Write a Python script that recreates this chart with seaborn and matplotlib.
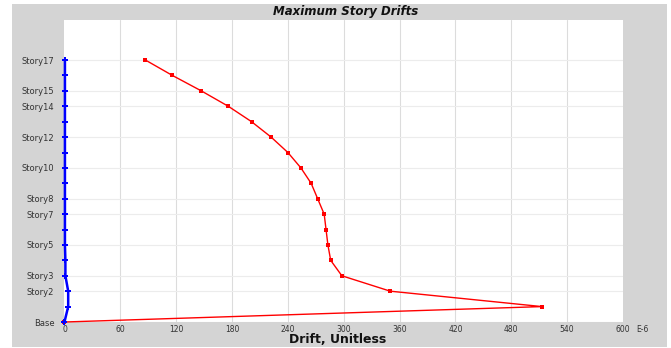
import numpy as np
import pandas as pd
import matplotlib
matplotlib.use("Agg")
import matplotlib.pyplot as plt
from matplotlib.patches import Rectangle
import seaborn as sns

# story levels, Base = 0 ... Story17 = 17
levels = list(range(0, 18))
story_names = ["Base"] + ["Story%d" % i for i in range(1, 18)]
labeled = ["Story17", "Story15", "Story14", "Story12", "Story10",
           "Story8", "Story7", "Story5", "Story3", "Story2", "Base"]

# drifts (E-6), Base -> Story17
drift_red = [0, 513, 350, 298, 286, 283, 281, 279, 272, 265,
             254, 240, 222, 201, 176, 147, 116, 87]
drift_blue = [0, 4, 4, 1, 1, 0.5, 0.5, 0.5, 0.5, 0.5,
              0.5, 0.5, 0.5, 0.5, 0.5, 0.5, 0.5, 0.5]
x_ticks = [0, 60, 120, 180, 240, 300, 360, 420, 480, 540, 600]

df = pd.DataFrame({"level": levels, "red": drift_red, "blue": drift_blue})

sns.set_style("white")
plt.rcParams["font.family"] = ["DejaVu Sans"]

fig = plt.figure(figsize=(6.71, 3.48), dpi=100)
fig.patch.set_facecolor("white")
# gray panel behind everything
bg = fig.add_axes([0, 0, 1, 1], zorder=-10)
bg.add_patch(Rectangle((12 / 671, 1 - 347 / 348), 655 / 671, 343 / 348,
                       facecolor="#d4d4d4", edgecolor="none"))
bg.set_xlim(0, 1)
bg.set_ylim(0, 1)
bg.axis("off")

ax = fig.add_axes([64 / 671, 1 - 322 / 348, 559 / 671, 302 / 348], zorder=1)
ax.set_facecolor("white")

# grid lines
for xv in x_ticks[1:-1]:
    ax.axvline(xv, color="#dcdcdc", lw=0.8, zorder=0)
for name in labeled:
    ax.axhline(story_names.index(name), color="#ececec", lw=0.8, zorder=0)

sns.lineplot(data=df, x="red", y="level", sort=False, estimator=None,
             color="red", lw=1.0, marker="s", markersize=3.5,
             markeredgewidth=0, ax=ax, zorder=3, clip_on=False)
sns.lineplot(data=df, x="blue", y="level", sort=False, estimator=None,
             color="blue", lw=1.8, marker="P", markersize=4.5,
             markeredgewidth=0, ax=ax, zorder=4, clip_on=False)

ax.set_xlim(-0.5, 600)
ax.set_ylim(0, 19.6)
for s in ax.spines.values():
    s.set_visible(False)

ax.set_xticks(x_ticks)
ax.set_xticklabels([str(v) for v in x_ticks])
ax.set_yticks([story_names.index(n) for n in labeled])
ax.set_yticklabels(labeled)
ax.tick_params(axis="both", labelsize=5.5, colors="#333333", length=2,
               width=0.6, direction="out")
ax.tick_params(axis="x", pad=0.5)
ax.tick_params(axis="y", pad=5, labelsize=6)
ax.set_xlabel("")
ax.set_ylabel("")

fig.text(346 / 671, 1 - 12 / 348, "Maximum Story Drifts", ha="center",
         va="center", fontsize=8.5, fontweight="bold", fontstyle="italic",
         color="#111111")
fig.text(338 / 671, 1 - 346 / 348, "Drift, Unitless", ha="center",
         va="bottom", fontsize=9, fontweight="bold", color="#111111")
fig.text(636 / 671, 1 - 329 / 348, "E-6", ha="left", va="center",
         fontsize=5.5, color="#333333")

fig.savefig("out.png", dpi=100, facecolor=fig.get_facecolor())
